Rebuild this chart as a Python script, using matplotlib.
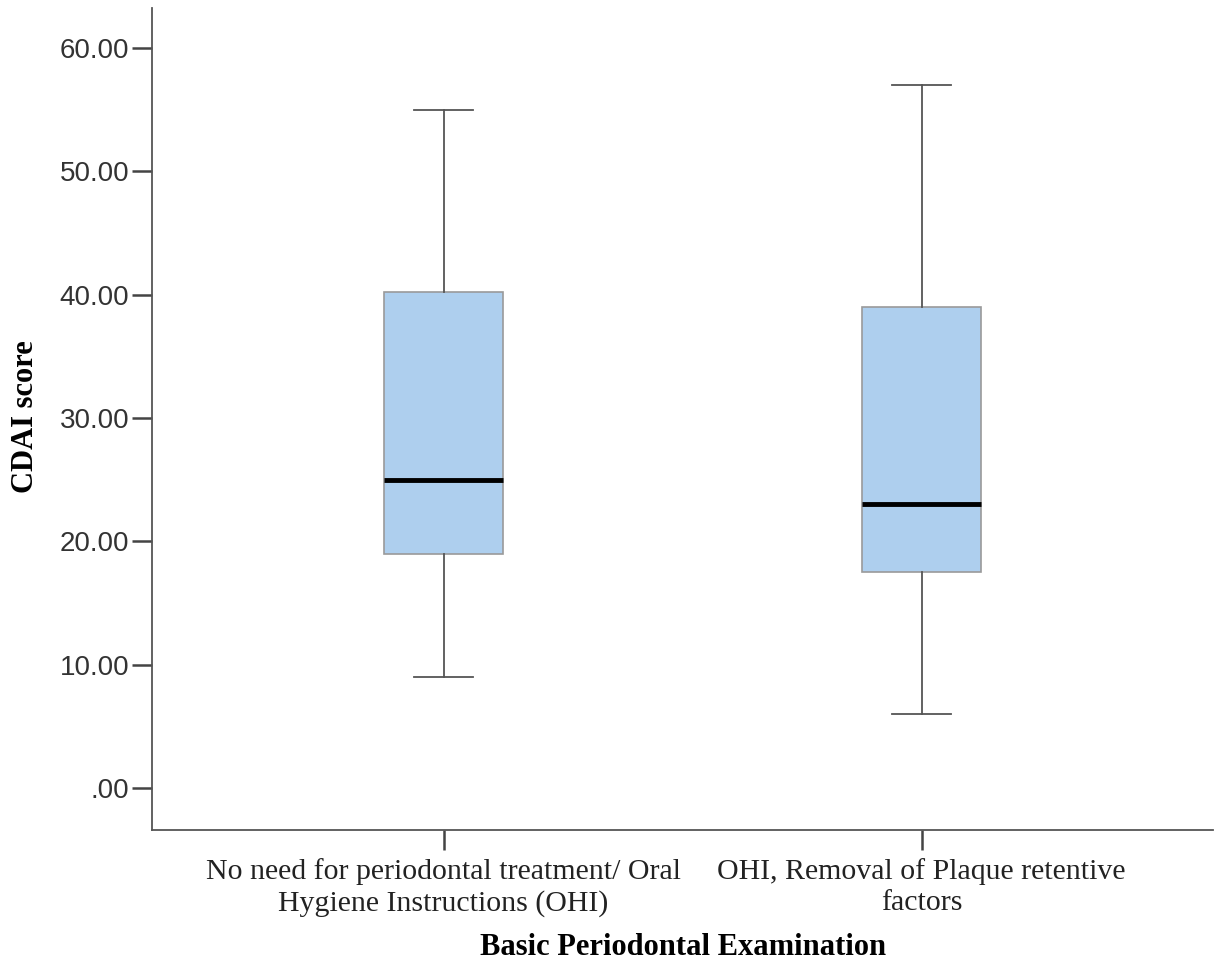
import matplotlib
matplotlib.use("Agg")
import matplotlib.pyplot as plt
from matplotlib.ticker import FuncFormatter

# box statistics
categories = [
    "No need for periodontal treatment/ Oral\nHygiene Instructions (OHI)",
    "OHI, Removal of Plaque retentive\nfactors",
]
whisker_low = [9.0, 6.0]
q1 = [19.0, 17.5]
median = [25.0, 23.0]
q3 = [40.2, 39.0]
whisker_high = [55.0, 57.0]

y_ticks = [0, 10, 20, 30, 40, 50, 60]

stats = []
for lab, lo, a, m, b, hi in zip(categories, whisker_low, q1, median, q3, whisker_high):
    stats.append({"label": lab, "whislo": lo, "q1": a, "med": m, "q3": b, "whishi": hi, "fliers": []})

fig = plt.figure(figsize=(12.19, 9.72), dpi=100)
ax = fig.add_axes([0.1247, 0.1461, 0.8705, 0.8457])

ax.bxp(
    stats,
    positions=[0, 1],
    widths=0.25,
    patch_artist=True,
    showfliers=False,
    boxprops=dict(facecolor="#aecfee", edgecolor="#9a9a9a", linewidth=1.2),
    medianprops=dict(color="black", linewidth=3.5),
    whiskerprops=dict(color="#555555", linewidth=1.3),
    capprops=dict(color="#555555", linewidth=1.3),
    capwidths=0.125,
)

ax.set_xlim(-0.61, 1.61)
ax.set_ylim(-3.4, 63.24)
ax.set_yticks(y_ticks)
ax.yaxis.set_major_formatter(FuncFormatter(lambda v, p: ".00" if v == 0 else f"{v:.2f}"))
ax.set_xticks([0, 1])
ax.set_xticklabels(categories, family="Liberation Serif", fontsize=21.5, color="#222222",
                   linespacing=1.22)
for lab in ax.get_yticklabels():
    lab.set_family("Liberation Sans")
    lab.set_fontsize(20)
    lab.set_color("#333333")

for s in ["top", "right"]:
    ax.spines[s].set_visible(False)
for s in ["left", "bottom"]:
    ax.spines[s].set_color("#555555")
    ax.spines[s].set_linewidth(1.3)
ax.tick_params(axis="both", length=14.4, width=1.8, color="#444444", pad=2)
ax.tick_params(axis="x", pad=6)

fig.text(0.5605, 0.0175, "Basic Periodontal Examination", ha="center", va="baseline",
         family="Liberation Serif", fontweight="bold", fontsize=22)
fig.text(0.021, 0.571, "CDAI score", ha="center", va="center", rotation=90,
         family="Liberation Serif", fontweight="bold", fontsize=22)

fig.savefig("out.png", dpi=100, facecolor="white")
